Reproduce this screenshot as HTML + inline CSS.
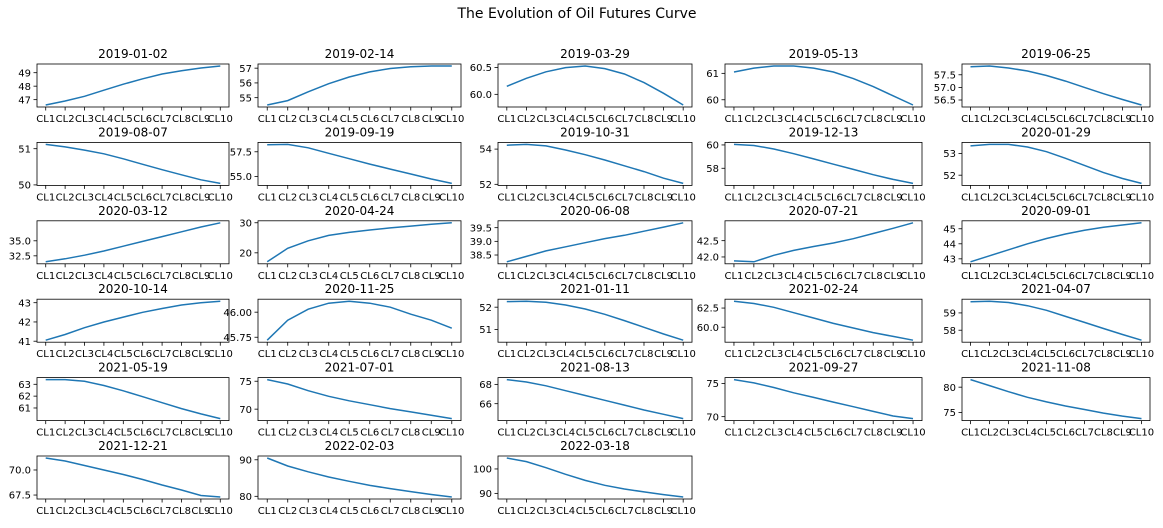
<!DOCTYPE html>
<html><head><meta charset="utf-8"><style>
html,body{margin:0;padding:0;background:#fff;}
svg text{font-family:"DejaVu Sans","Liberation Sans",sans-serif;}
</style></head><body>
<svg id="s" width="1163" height="523" xmlns="http://www.w3.org/2000/svg">
<rect width="1163" height="523" fill="#fff"/>
<text x="577" y="18" font-size="14" text-anchor="middle">The Evolution of Oil Futures Curve</text>
</svg>
<script>
var cols=[[37,229],[258,461],[498,692],[725,922],[962,1150]];
var D=[
["2019-01-02",[46.6,46.9,47.25,47.7,48.15,48.55,48.9,49.15,49.35,49.5],[[47,"47"],[48,"48"],[49,"49"]]],
["2019-02-14",[54.5,54.8,55.4,55.95,56.4,56.75,56.98,57.1,57.15,57.15],[[55,"55"],[56,"56"],[57,"57"]]],
["2019-03-29",[60.15,60.3,60.42,60.5,60.53,60.48,60.38,60.22,60.02,59.8],[[60,"60.0"],[60.5,"60.5"]]],
["2019-05-13",[61.05,61.2,61.28,61.28,61.2,61.05,60.8,60.5,60.15,59.8],[[60,"60"],[61,"61"]]],
["2019-06-25",[57.82,57.85,57.77,57.65,57.47,57.25,57.0,56.75,56.52,56.3],[[56.5,"56.5"],[57,"57.0"],[57.5,"57.5"]]],
["2019-08-07",[51.12,51.05,50.96,50.86,50.72,50.57,50.42,50.28,50.14,50.04],[[50,"50"],[51,"51"]]],
["2019-09-19",[58.2,58.25,57.9,57.35,56.8,56.25,55.75,55.25,54.75,54.3],[[55,"55.0"],[57.5,"57.5"]]],
["2019-10-31",[54.22,54.27,54.18,53.95,53.68,53.38,53.05,52.72,52.35,52.05],[[52,"52"],[54,"54"]]],
["2019-12-13",[60.05,59.95,59.65,59.25,58.8,58.35,57.9,57.45,57.05,56.7],[[58,"58"],[60,"60"]]],
["2020-01-29",[53.35,53.42,53.42,53.3,53.08,52.78,52.45,52.12,51.85,51.62],[[52,"52"],[53,"53"]]],
["2020-03-12",[31.5,32.0,32.6,33.3,34.1,34.9,35.7,36.5,37.3,38.0],[[32.5,"32.5"],[35,"35.0"]]],
["2020-04-24",[17,21.5,24,25.8,26.8,27.6,28.3,28.9,29.5,30],[[20,"20"],[30,"30"]]],
["2020-06-08",[38.25,38.45,38.65,38.8,38.95,39.1,39.22,39.37,39.52,39.68],[[38.5,"38.5"],[39,"39.0"],[39.5,"39.5"]]],
["2020-07-21",[41.88,41.85,42.05,42.2,42.32,42.43,42.56,42.72,42.88,43.05],[[42,"42.0"],[42.5,"42.5"]]],
["2020-09-01",[42.8,43.2,43.6,44.0,44.35,44.65,44.9,45.1,45.25,45.4],[[43,"43"],[44,"44"],[45,"45"]]],
["2020-10-14",[41.05,41.35,41.7,42.0,42.25,42.5,42.7,42.88,43.0,43.08],[[41,"41"],[42,"42"],[43,"43"]]],
["2020-11-25",[45.72,45.92,46.03,46.09,46.11,46.09,46.05,45.98,45.92,45.84],[[45.75,"45.75"],[46,"46.00"]]],
["2021-01-11",[52.25,52.27,52.22,52.1,51.92,51.68,51.4,51.1,50.8,50.52],[[51,"51"],[52,"52"]]],
["2021-02-24",[63.4,63.1,62.6,61.9,61.2,60.5,59.9,59.3,58.8,58.3],[[60,"60.0"],[62.5,"62.5"]]],
["2021-04-07",[59.65,59.68,59.6,59.42,59.15,58.8,58.45,58.1,57.75,57.42],[[58,"58"],[59,"59"]]],
["2021-05-19",[63.4,63.4,63.25,62.9,62.45,61.95,61.45,60.95,60.5,60.1],[[61,"61"],[62,"62"],[63,"63"]]],
["2021-07-01",[75.3,74.5,73.3,72.3,71.5,70.8,70.1,69.5,68.9,68.3],[[70,"70"],[75,"75"]]],
["2021-08-13",[68.5,68.25,67.85,67.35,66.85,66.35,65.85,65.35,64.9,64.45],[[66,"66"],[68,"68"]]],
["2021-09-27",[75.6,75.1,74.4,73.6,72.9,72.2,71.5,70.8,70.1,69.7],[[70,"70"],[75,"75"]]],
["2021-11-08",[81.5,80.3,79.1,78.0,77.1,76.3,75.6,74.9,74.3,73.8],[[75,"75"],[80,"80"]]],
["2021-12-21",[71.2,70.9,70.45,70.0,69.55,69.05,68.5,68.0,67.45,67.3],[[67.5,"67.5"],[70,"70.0"]]],
["2022-02-03",[90.5,88.3,86.7,85.3,84.1,83.0,82.1,81.3,80.5,79.8],[[80,"80"],[90,"90"]]],
["2022-03-18",[104.5,103,100.5,97.8,95.3,93.3,91.8,90.6,89.5,88.5],[[90,"90"],[100,"100"]]]
];
var s=document.getElementById('s'),h='';
D.forEach(function(d,i){
 var r=Math.floor(i/5),c=i%5,L=cols[c][0],R=cols[c][1],T=64+78.4*r,H=43,B=T+H,W=R-L;
 var mn=Math.min.apply(null,d[1]),mx=Math.max.apply(null,d[1]),rg=mx-mn;
 var y0=mn-0.05*rg,y1=mx+0.05*rg;
 function Y(v){return B-(v-y0)/(y1-y0)*H;}
 function X(k){return L+(k+0.45)/9.9*W;}
 h+='<text x="'+((L+R)/2)+'" y="'+(T-6)+'" font-size="12" text-anchor="middle">'+d[0]+'</text>';
 var p=d[1].map(function(v,k){return X(k).toFixed(1)+','+Y(v).toFixed(1);}).join(' ');
 h+='<polyline points="'+p+'" fill="none" stroke="#1f77b4" stroke-width="1.5"/>';
 h+='<rect x="'+L+'" y="'+T+'" width="'+W+'" height="'+H+'" fill="none" stroke="#000" stroke-width="0.8"/>';
 for(var k=0;k<10;k++){var x=X(k);
  h+='<line x1="'+x+'" y1="'+B+'" x2="'+x+'" y2="'+(B+3.5)+'" stroke="#000" stroke-width="0.8"/>';
  h+='<text x="'+x+'" y="'+(B+15)+'" font-size="10" text-anchor="middle">CL'+(k+1)+'</text>';}
 d[2].forEach(function(t){var y=Y(t[0]);
  h+='<line x1="'+(L-3.5)+'" y1="'+y+'" x2="'+L+'" y2="'+y+'" stroke="#000" stroke-width="0.8"/>';
  h+='<text x="'+(L-6)+'" y="'+(y+3.6)+'" font-size="10" text-anchor="end">'+t[1]+'</text>';});
});
s.insertAdjacentHTML('beforeend',h);
</script>
</body></html>
